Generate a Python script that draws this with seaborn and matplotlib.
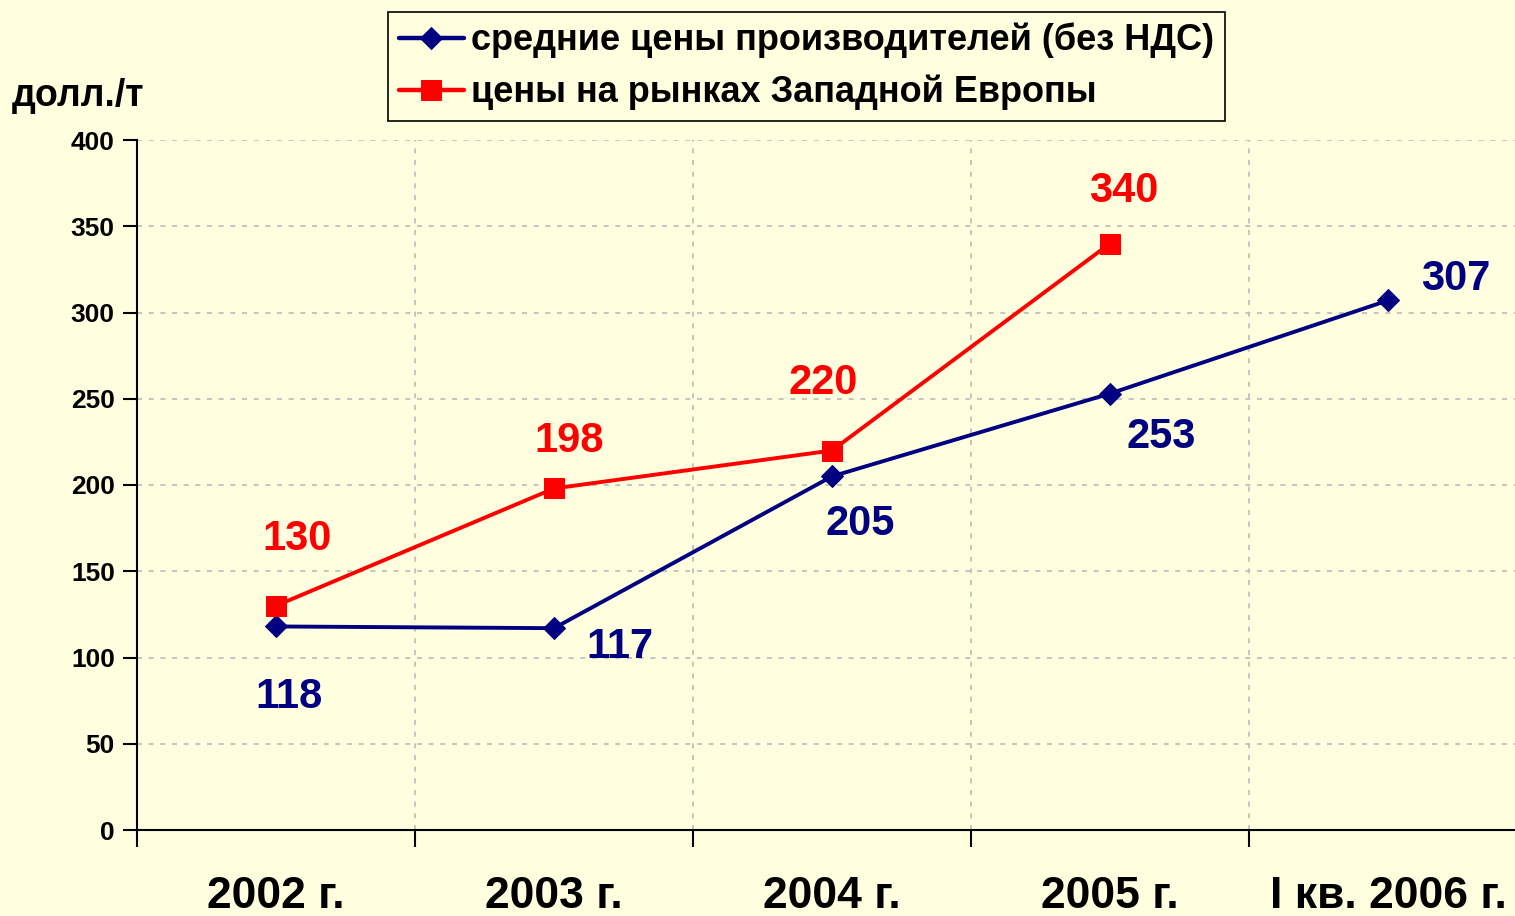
import pandas as pd
import matplotlib.pyplot as plt
from matplotlib.ticker import MultipleLocator, FixedLocator
import seaborn as sns

# Chart data
periods = ['2002 г.', '2003 г.', '2004 г.', '2005 г.', 'I кв. 2006 г.']
producer_prices = [118, 117, 205, 253, 307]
europe_prices = [130, 198, 220, 340]

producer_name = 'средние цены производителей (без НДС)'
europe_name = 'цены на рынках Западной Европы'

bg = '#FFFFE0'
navy = '#000080'
red = '#FF0000'

sns.set_style('white')
plt.rcParams['font.family'] = ['Liberation Sans', 'DejaVu Sans']
plt.rcParams['font.weight'] = 'bold'
plt.rcParams['text.color'] = 'black'
plt.rcParams['xtick.color'] = 'black'
plt.rcParams['ytick.color'] = 'black'

df_prod = pd.DataFrame({'x': range(len(producer_prices)), 'y': producer_prices})
df_eu = pd.DataFrame({'x': range(len(europe_prices)), 'y': europe_prices})

fig = plt.figure(figsize=(15.15, 9.16), dpi=100, facecolor=bg)
ax = fig.add_axes([137 / 1515, 86 / 916, 1390 / 1515, 690 / 916])
ax.set_facecolor(bg)

sns.lineplot(data=df_prod, x='x', y='y', ax=ax, color=navy, linewidth=2.8,
             marker='D', markersize=11, markeredgecolor=navy, label=producer_name)
sns.lineplot(data=df_eu, x='x', y='y', ax=ax, color=red, linewidth=2.8,
             marker='s', markersize=14, markeredgecolor=red, label=europe_name)

ax.set_xlim(-0.5, 4.5)
ax.set_ylim(0, 400)
ax.yaxis.set_major_locator(MultipleLocator(50))
ax.xaxis.set_major_locator(FixedLocator([-0.5, 0.5, 1.5, 2.5, 3.5, 4.5]))
ax.xaxis.set_minor_locator(FixedLocator(range(len(periods))))
ax.set_xticklabels([])
ax.set_xticklabels(periods, minor=True)
ax.tick_params(axis='x', which='major', bottom=True, direction='out', length=12, width=1.5, color='black')
ax.tick_params(axis='x', which='minor', bottom=True, length=0, pad=33, labelsize=32, labelcolor='black')
ax.tick_params(axis='y', left=True, direction='out', length=10, width=1.5, color='black',
               labelsize=19, labelcolor='black', pad=6)
for lab in ax.get_xticklabels(minor=True) + ax.get_yticklabels():
    lab.set_fontweight('bold')

ax.grid(True, which='major', color='#BBBBBB', linestyle=(0, (3, 4)), linewidth=1.2)
for s in ['top', 'right']:
    ax.spines[s].set_visible(False)
for s in ['left', 'bottom']:
    ax.spines[s].set_color('black')
    ax.spines[s].set_linewidth(1.5)
ax.set_xlabel('')
ax.set_ylabel('')

# value labels
eu_offsets = [(21, 67), (15, 47), (-9, 68), (14, 52)]
prod_offsets = [(13, -71), (66, -19), (28, -48), (51, -43), (68, 21)]
for i, v in enumerate(europe_prices):
    ax.annotate(str(v), (i, v), xytext=eu_offsets[i], textcoords='offset pixels',
                ha='center', va='center', color=red, fontsize=30, fontweight='bold')
for i, v in enumerate(producer_prices):
    ax.annotate(str(v), (i, v), xytext=prod_offsets[i], textcoords='offset pixels',
                ha='center', va='center', color=navy, fontsize=30, fontweight='bold')

fig.text(12 / 1515, 1 - 96 / 916, 'долл./т', fontsize=27, fontweight='bold',
         va='center', ha='left', color='black')

leg = ax.legend(loc='upper left', bbox_to_anchor=(388 / 1515, 1 - 12 / 916),
                bbox_transform=fig.transFigure, frameon=True, fancybox=False,
                edgecolor='black', facecolor=bg, framealpha=1, fontsize=26,
                handlelength=1.8, handletextpad=0.2, borderpad=0.3, labelspacing=0.45,
                borderaxespad=0)
leg.get_frame().set_linewidth(1.2)
for t in leg.get_texts():
    t.set_fontweight('bold')
    t.set_color('black')
for h in leg.legend_handles:
    h.set_linewidth(3.2)

fig.savefig('out.png', dpi=100, facecolor=bg)
